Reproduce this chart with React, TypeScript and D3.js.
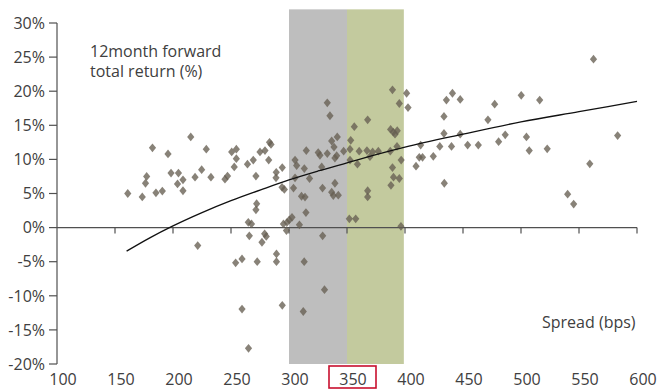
import React from "react";
import * as d3 from "d3";

const spreads: number[] = [
  161, 173.5, 177.3, 176.3, 182.3, 185.3, 190.8, 195.7, 198.3, 203.9, 204.7, 208.6, 208.6, 215.3, 219, 224.7, 228.7, 232.7, 244.8, 247,
  250.6, 254.6, 252.8, 254.6, 264.2, 269.2, 271.5, 275, 279.3, 283.2, 284.5, 282.5, 289, 288.8, 294.2, 294, 296, 272.1, 271.5, 264.9,
  267.7, 295.2, 298.3, 300.2, 302.6, 297.8, 221.3, 254, 259.5, 265.8, 272.6, 276.7, 280.4, 279, 289.2, 289.2, 259.5, 265.1, 294.2,
  305.2, 306.6, 314.9, 313.2, 317.7, 305.2, 325.2, 326.7, 333, 328.2, 336.8, 338.8, 341.6, 339.6, 341.1, 347.1, 328.9, 339.6, 336.8,
  338.2, 342.5, 310.8, 313.8, 303.9, 333, 335.3, 309, 314.6, 313.1, 329, 330.6, 312.3,
  353.2, 352.6, 352.6, 356.3, 359, 360.5, 367.2, 367.8, 372.1, 377, 387.3, 389.2, 387.6, 389.9, 393.3, 391.4, 393.1, 395.1, 396.7,
  389.2, 390.1, 395.1, 387.9, 367.8, 367.8, 352, 357.5, 396.5, 369.8,
  401.4, 402.6, 440.9, 435.7, 447.6, 433.6, 433.6, 447.6, 477.3, 471.5, 500.2, 516.1, 562.5, 583.3, 413.5, 412.3, 415.1, 409.5,
  424.4, 430, 440.1, 454, 463.2, 480.7, 486.4, 504.7, 507.1, 522.6, 433.9, 559.3, 540.2, 545.4,
];

const returns: number[] = [
  5.0, 4.5, 7.5, 6.5, 11.7, 5.1, 5.35, 10.8, 8.0, 6.4, 8.0, 7.0, 5.4, 13.3, 7.4, 8.5, 11.5, 7.4, 7.1, 7.55,
  11.1, 11.5, 8.9, 10.1, 9.3, 9.9, 7.55, 11.1, 11.3, 12.5, 12.2, 9.9, 8.1, 7.3, 8.8, 5.9, 5.6, 3.5, 2.6, 0.78,
  0.54, 0.54, 0.78, 1.13, 1.5, -0.44, -2.64, -5.17, -4.6, -1.2, -5.0, -2.15, -1.3, -0.92, -3.86, -5.0, -11.95, -17.7, -11.4,
  9.9, 9.1, 11.3, 8.65, 7.2, 7.3, 11.0, 10.6, 10.85, 8.9, 12.7, 11.8, 13.3, 10.2, 10.55, 11.2, 5.8, 6.5, 5.2,
  4.7, 4.76, 4.6, 4.47, 5.8, 18.3, 16.4, 0.41, 2.2, -5.0, -1.2, -9.1, -12.3,
  12.8, 11.5, 9.9, 14.8, 9.3, 11.2, 11.3, 15.8, 11.1, 11.2, 11.2, 20.2, 14.4, 14.0, 14.2, 13.7, 11.9, 18.2, 9.9,
  8.8, 7.4, 7.2, 6.2, 5.4, 4.5, 1.28, 1.28, 0.19, 10.4,
  19.7, 17.6, 19.7, 18.7, 18.8, 16.3, 13.8, 13.7, 18.1, 15.8, 19.4, 18.7, 24.7, 13.5, 12.1, 10.3, 10.3, 9.0,
  10.45, 11.9, 11.9, 12.1, 12.1, 12.6, 13.6, 13.3, 11.3, 11.55, 6.5, 9.35, 4.9, 3.45,
];

const trendSpreads: number[] = [160, 180, 200, 225, 250, 275, 300, 325, 350, 375, 400, 450, 500, 550, 600];
const trendReturns: number[] = [-3.45, -1.5, 0.25, 2.2, 3.95, 5.5, 7.0, 8.3, 9.5, 10.7, 11.8, 13.7, 15.5, 17.0, 18.5];

const xTicks: number[] = [100, 150, 200, 250, 300, 350, 400, 450, 500, 550, 600];
const yTicks: number[] = [-20, -15, -10, -5, 0, 5, 10, 15, 20, 25, 30];

const greyBand: number[] = [300, 350];
const greenBand: number[] = [350, 399];
const bandTop = 32;

const W = 661;
const H = 389;
const FONT = "'Open Sans', sans-serif";
const TEXT = "#404040";

export default function App() {
  const x = d3.scaleLinear().domain([100, 600]).range([57, 637]);
  const y = d3.scaleLinear().domain([-20, 30]).range([364, 23]);

  const pts = spreads.map((s, i) => ({ s, r: returns[i] }));
  const trend = trendSpreads.map((s, i) => [s, trendReturns[i]] as [number, number]);
  const line = d3
    .line<[number, number]>()
    .x((d) => x(d[0]))
    .y((d) => y(d[1]))
    .curve(d3.curveMonotoneX);

  const diamond = (cx: number, cy: number) => {
    const w = 3.6;
    const h = 4.4;
    return `M${cx},${cy - h}L${cx + w},${cy}L${cx},${cy + h}L${cx - w},${cy}Z`;
  };

  return (
    <svg
      width={W}
      height={H}
      style={{ position: "absolute", left: 0, top: 0, background: "#fff" }}
    >
      <rect
        x={x(greyBand[0])}
        y={y(bandTop)}
        width={x(greyBand[1]) - x(greyBand[0])}
        height={y(-20) - y(bandTop)}
        fill="#bebebe"
      />
      <rect
        x={x(greenBand[0])}
        y={y(bandTop)}
        width={x(greenBand[1]) - x(greenBand[0])}
        height={y(-20) - y(bandTop)}
        fill="#c3ca9e"
      />

      {/* y axis */}
      <line x1={x(100)} x2={x(100)} y1={y(30)} y2={y(-20)} stroke="#505050" strokeWidth={1.2} />
      {yTicks.map((t) => (
        <g key={"y" + t}>
          <line x1={x(100) - 8} x2={x(100)} y1={y(t)} y2={y(t)} stroke="#505050" strokeWidth={1.2} />
          <text
            x={45}
            y={y(t)}
            dy="0.36em"
            textAnchor="end"
            fontFamily={FONT}
            fontSize={16}
            fill={TEXT}
          >
            {t + "%"}
          </text>
        </g>
      ))}

      {/* x axis at 0% */}
      <line x1={x(100)} x2={x(600)} y1={y(0)} y2={y(0)} stroke="#505050" strokeWidth={1.2} />
      {xTicks.map((t) => (
        <g key={"x" + t}>
          {t !== 100 && (
            <line x1={x(t)} x2={x(t)} y1={y(0)} y2={y(0) + 6} stroke="#505050" strokeWidth={1.2} />
          )}
          <text
            x={x(t) + 6}
            y={385}
            textAnchor="middle"
            fontFamily={FONT}
            fontSize={16}
            fill={TEXT}
          >
            {t}
          </text>
        </g>
      ))}

      {/* points */}
      {pts.map((p, i) => (
        <path key={i} d={diamond(x(p.s), y(p.r))} fill="#675f52" fillOpacity={0.78} />
      ))}

      {/* trend line */}
      <path d={line(trend) || ""} fill="none" stroke="#111" strokeWidth={1.3} />

      {/* labels */}
      <text x={90} y={57} fontFamily={FONT} fontSize={16} fill={TEXT}>
        12month forward
      </text>
      <text x={90} y={77} fontFamily={FONT} fontSize={16} fill={TEXT}>
        total return (%)
      </text>
      <text x={542} y={328} fontFamily={FONT} fontSize={16} fill={TEXT}>
        Spread (bps)
      </text>

      {/* highlight box */}
      <rect x={329} y={366} width={47} height={22} fill="none" stroke="#c8102e" strokeWidth={1.6} />
    </svg>
  );
}
